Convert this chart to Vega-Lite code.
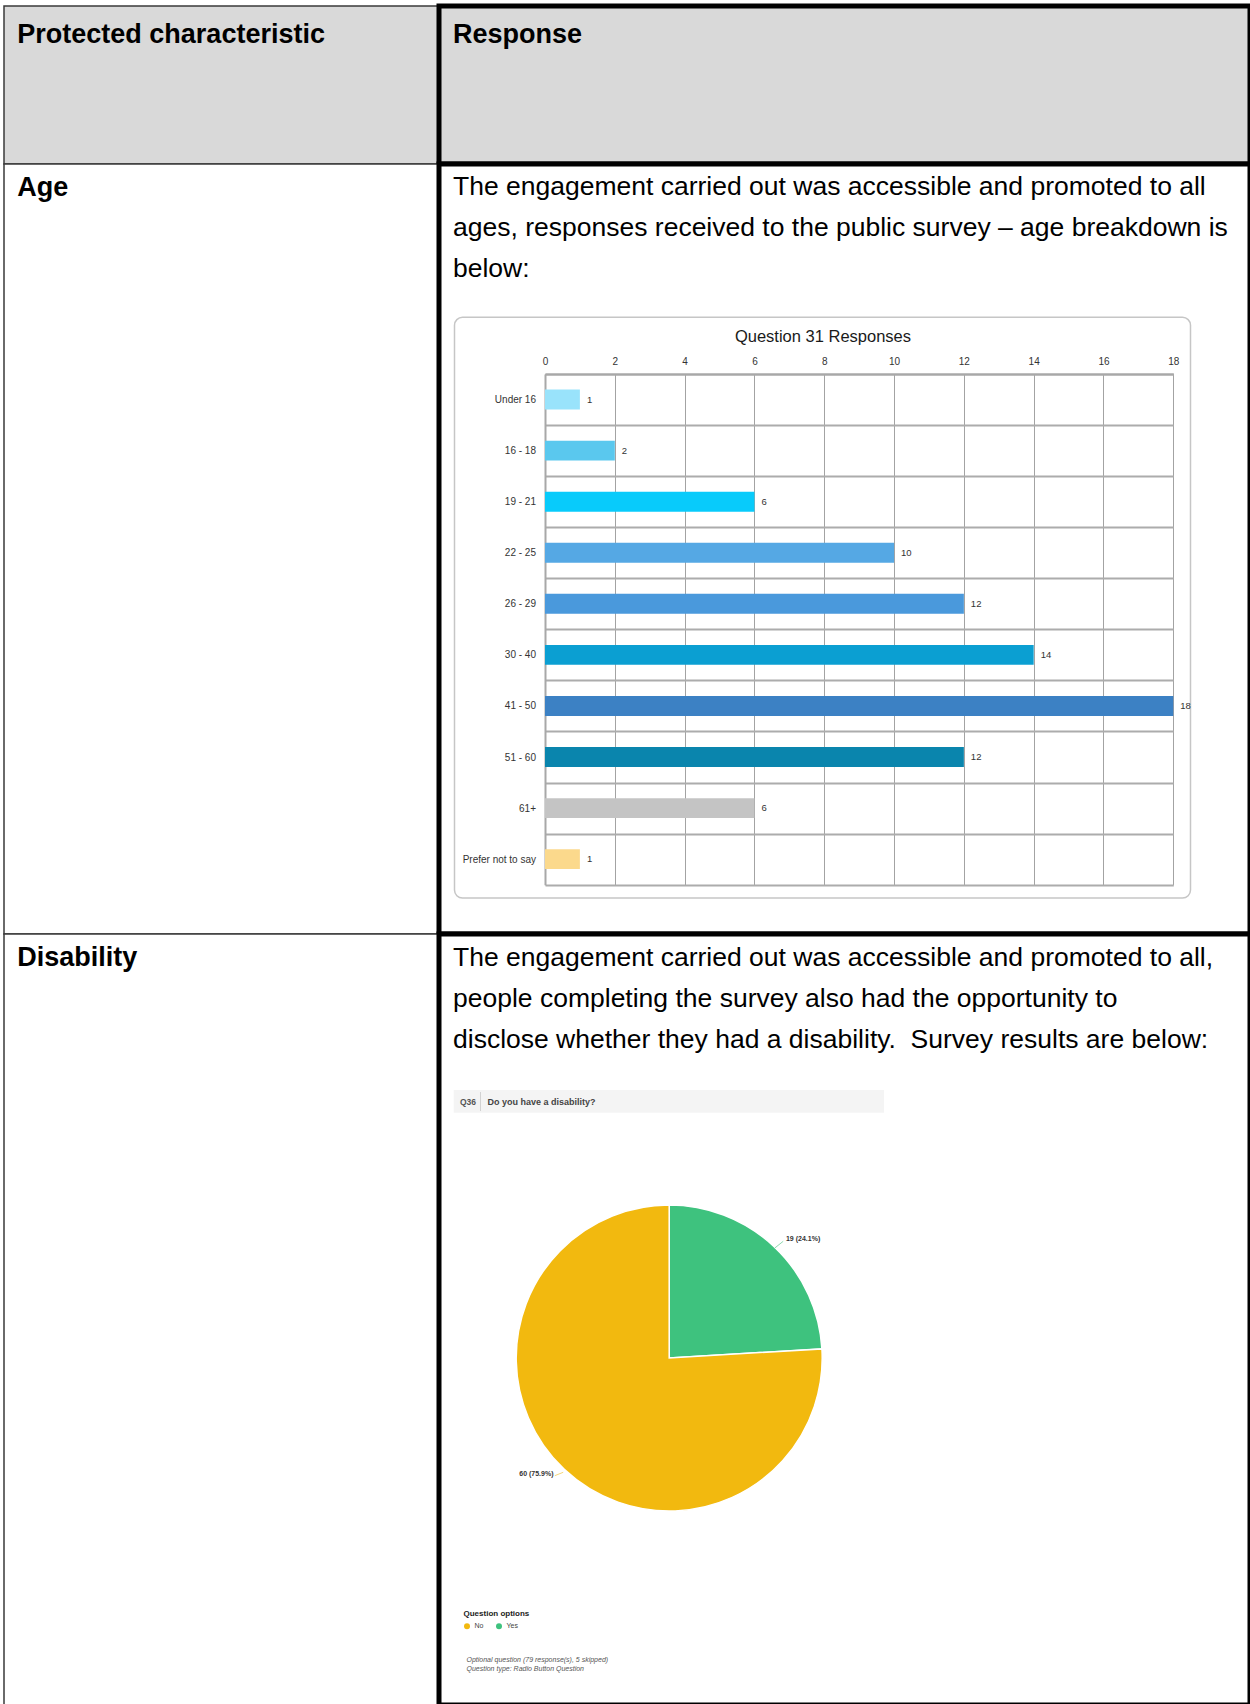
{
  "$schema": "https://vega.github.io/schema/vega-lite/v6.json",
  "background": "white",
  "padding": {"left": 3, "top": 3, "right": 0, "bottom": 0},
  "columns": 2,
  "spacing": 0,
  "bounds": "flush",
  "resolve": {"scale": {"color": "independent"}, "legend": {"color": "independent"}},
  "config": {
    "font": "Liberation Sans",
    "concat": {"spacing": 0}
  },
  "concat": [
    {
      "width": 434.5, "height": 158,
      "view": {"fill": "#d9d9d9", "stroke": "#3a3a3a", "strokeWidth": 1.5},
      "data": {"values": [{"label": "Protected characteristic"}]},
      "mark": {"type": "text", "align": "left", "baseline": "top", "fontSize": 27, "fontWeight": "bold", "color": "#000000"},
      "encoding": {"x": {"value": 13.3}, "y": {"value": 15.7}, "text": {"field": "label", "type": "nominal"}}
    },
    {
      "width": 811, "height": 158,
      "view": {"fill": "#d9d9d9", "stroke": "#000000", "strokeWidth": 5},
      "data": {"values": [{"label": "Response"}]},
      "mark": {"type": "text", "align": "left", "baseline": "top", "fontSize": 27, "fontWeight": "bold", "color": "#000000"},
      "encoding": {"x": {"value": 14}, "y": {"value": 15.7}, "text": {"field": "label", "type": "nominal"}}
    },
    {
      "width": 434.5, "height": 770,
      "view": {"fill": "white", "stroke": "#3a3a3a", "strokeWidth": 1.5},
      "data": {"values": [{"label": "Age"}]},
      "mark": {"type": "text", "align": "left", "baseline": "top", "fontSize": 27, "fontWeight": "bold", "color": "#000000"},
      "encoding": {"x": {"value": 13.3}, "y": {"value": 10.8}, "text": {"field": "label", "type": "nominal"}}
    },
    {
      "width": 811, "height": 770,
      "view": {"fill": "white", "stroke": "#000000", "strokeWidth": 5},
      "data": {"values": [
        {"age": "Under 16", "responses": 1},
        {"age": "16 - 18", "responses": 2},
        {"age": "19 - 21", "responses": 6},
        {"age": "22 - 25", "responses": 10},
        {"age": "26 - 29", "responses": 12},
        {"age": "30 - 40", "responses": 14},
        {"age": "41 - 50", "responses": 18},
        {"age": "51 - 60", "responses": 12},
        {"age": "61+", "responses": 6},
        {"age": "Prefer not to say", "responses": 1}
      ]},
      "layer": [
        {
          "data": {"values": [{"paragraph": ["The engagement carried out was accessible and promoted to all", "ages, responses received to the public survey – age breakdown is", "below:"]}]},
          "mark": {"type": "text", "align": "left", "baseline": "top", "fontSize": 26.5, "lineHeight": 41, "color": "#000000"},
          "encoding": {"x": {"value": 14}, "y": {"value": 10.3}, "text": {"field": "paragraph", "type": "nominal"}}
        },
        {
          "data": {"values": [{"frame": "chart box"}]},
          "mark": {"type": "rect", "filled": false, "stroke": "#c6c6c6", "strokeWidth": 1.5, "cornerRadius": 8},
          "encoding": {"x": {"value": 15.5}, "x2": {"value": 751.5}, "y": {"value": 153.3}, "y2": {"value": 734}}
        },
        {
          "mark": {"type": "bar", "height": {"band": 0.39}},
          "encoding": {
            "x": {
              "field": "responses", "type": "quantitative",
              "scale": {"domain": [0, 18], "range": [106, 734.3], "nice": false, "zero": true},
              "axis": {
                "orient": "top", "offset": -210,
                "values": [0, 2, 4, 6, 8, 10, 12, 14, 16, 18],
                "grid": true, "gridColor": "#a3a3a3", "gridWidth": 1,
                "ticks": false, "domain": true, "domainColor": "#a8a8a8", "domainWidth": 2,
                "labelFont": "Liberation Sans", "labelFontSize": 10, "labelColor": "#333333", "labelPadding": 8, "labelFlush": false,
                "title": "Question 31 Responses", "titleFont": "Liberation Sans", "titleFontSize": 16.5, "titleFontWeight": "normal",
                "titleColor": "#1a1a1a", "titlePadding": 12, "titleX": 383.5, "titleAlign": "center"
              }
            },
            "y": {
              "field": "age", "type": "nominal", "sort": null,
              "scale": {"domain": ["Under 16", "16 - 18", "19 - 21", "22 - 25", "26 - 29", "30 - 40", "41 - 50", "51 - 60", "61+", "Prefer not to say"], "range": [210, 720.7], "paddingInner": 0, "paddingOuter": 0},
              "axis": {
                "orient": "left", "offset": -106, "tickBand": "extent",
                "grid": true, "gridColor": "#acacac", "gridWidth": 2,
                "ticks": false, "domain": true, "domainColor": "#a8a8a8", "domainWidth": 2,
                "labelFont": "Liberation Sans", "labelFontSize": 10, "labelColor": "#333333", "labelPadding": 9.5,
                "title": null
              }
            },
            "color": {
              "field": "age", "type": "nominal",
              "scale": {
                "domain": ["Under 16", "16 - 18", "19 - 21", "22 - 25", "26 - 29", "30 - 40", "41 - 50", "51 - 60", "61+", "Prefer not to say"],
                "range": ["#99e3fb", "#5ac8ee", "#08cbfb", "#55a8e4", "#4a99dc", "#0b9fd2", "#3c81c4", "#0a85ad", "#c4c4c4", "#fbd98c"]
              },
              "legend": null
            }
          }
        },
        {
          "mark": {"type": "text", "align": "left", "baseline": "middle", "dx": 7, "fontSize": 9.5, "color": "#333333"},
          "encoding": {
            "x": {"field": "responses", "type": "quantitative"},
            "y": {"field": "age", "type": "nominal", "sort": null},
            "text": {"field": "responses", "type": "quantitative"}
          }
        }
      ]
    },
    {
      "width": 434.5, "height": 771,
      "view": {"fill": "white", "stroke": "#3a3a3a", "strokeWidth": 1.5},
      "data": {"values": [{"label": "Disability"}]},
      "mark": {"type": "text", "align": "left", "baseline": "top", "fontSize": 27, "fontWeight": "bold", "color": "#000000"},
      "encoding": {"x": {"value": 13.3}, "y": {"value": 10.8}, "text": {"field": "label", "type": "nominal"}}
    },
    {
      "width": 811, "height": 771,
      "view": {"fill": "white", "stroke": "#000000", "strokeWidth": 5},
      "layer": [
        {
          "data": {"values": [{"paragraph": ["The engagement carried out was accessible and promoted to all,", "people completing the survey also had the opportunity to", "disclose whether they had a disability.\u00a0 Survey results are below:"]}]},
          "mark": {"type": "text", "align": "left", "baseline": "top", "fontSize": 26.5, "lineHeight": 41, "color": "#000000"},
          "encoding": {"x": {"value": 14}, "y": {"value": 10.5}, "text": {"field": "paragraph", "type": "nominal"}}
        },
        {
          "data": {"values": [{"question": "Q36", "wording": "Do you have a disability?"}]},
          "layer": [
            {
              "mark": {"type": "rect", "fill": "#f4f4f4"},
              "encoding": {"x": {"value": 14.7}, "x2": {"value": 445}, "y": {"value": 156}, "y2": {"value": 178.8}}
            },
            {
              "mark": {"type": "rule", "stroke": "#d2d2d2", "strokeWidth": 1},
              "encoding": {"x": {"value": 41.5}, "y": {"value": 158}, "y2": {"value": 177}}
            },
            {
              "mark": {"type": "text", "align": "left", "baseline": "middle", "fontWeight": "bold", "fontSize": 8.5, "color": "#555555"},
              "encoding": {"x": {"value": 21}, "y": {"value": 168}, "text": {"field": "question", "type": "nominal"}}
            },
            {
              "mark": {"type": "text", "align": "left", "baseline": "middle", "fontWeight": "bold", "fontSize": 9, "color": "#444444"},
              "encoding": {"x": {"value": 48.5}, "y": {"value": 168}, "text": {"field": "wording", "type": "nominal"}}
            }
          ]
        },
        {
          "data": {"values": [
            {"option": "Yes", "count": 19, "label": "19 (24.1%)"},
            {"option": "No", "count": 60, "label": "60 (75.9%)"}
          ]},
          "encoding": {
            "theta": {"field": "count", "type": "quantitative", "stack": true},
            "order": {"field": "option", "sort": "descending"},
            "x": {"value": 230.2},
            "y": {"value": 424}
          },
          "layer": [
            {
              "mark": {"type": "arc", "outerRadius": 153, "stroke": "white", "strokeWidth": 1.5},
              "encoding": {
                "color": {
                  "field": "option", "type": "nominal",
                  "scale": {"domain": ["No", "Yes"], "range": ["#f2b90f", "#3ec27e"]},
                  "legend": {
                    "orient": "none", "legendX": 24.5, "legendY": 676, "direction": "horizontal", "padding": 0,
                    "title": "Question options", "titleFont": "Liberation Sans", "titleFontSize": 8, "titleFontWeight": "bold", "titleColor": "#222222", "titlePadding": 4.5,
                    "labelFont": "Liberation Sans", "labelFontSize": 7, "labelColor": "#444444", "labelOffset": 4,
                    "symbolType": "circle", "symbolSize": 36, "symbolStrokeWidth": 0, "columnPadding": 12
                  }
                }
              }
            },
            {
              "mark": {"type": "text", "radius": 163, "align": "left", "baseline": "middle", "dx": 5, "fontSize": 7, "fontWeight": "bold", "color": "#333333"},
              "encoding": {"text": {"condition": {"test": "datum.option === 'Yes'", "field": "label"}, "value": ""}}
            },
            {
              "mark": {"type": "text", "radius": 160, "align": "right", "baseline": "middle", "dx": -6, "fontSize": 7, "fontWeight": "bold", "color": "#333333"},
              "encoding": {"text": {"condition": {"test": "datum.option === 'No'", "field": "label"}, "value": ""}}
            }
          ]
        },
        {
          "data": {"values": [{"leader": "Yes"}]},
          "mark": {"type": "rule", "stroke": "#8fd9b0", "strokeWidth": 1},
          "encoding": {"x": {"value": 335.8}, "y": {"value": 314}, "x2": {"value": 344.2}, "y2": {"value": 307.3}}
        },
        {
          "data": {"values": [{"leader": "No"}]},
          "mark": {"type": "rule", "stroke": "#f5d77a", "strokeWidth": 1},
          "encoding": {"x": {"value": 115.8}, "y": {"value": 541.7}, "x2": {"value": 124.2}, "y2": {"value": 538.3}}
        },
        {
          "data": {"values": [{"note": ["Optional question (79 response(s), 5 skipped)", "Question type: Radio Button Question"]}]},
          "mark": {"type": "text", "align": "left", "baseline": "top", "fontSize": 7, "fontStyle": "italic", "color": "#555555", "lineHeight": 9},
          "encoding": {"x": {"value": 27.5}, "y": {"value": 721.5}, "text": {"field": "note", "type": "nominal"}}
        }
      ]
    }
  ]
}
